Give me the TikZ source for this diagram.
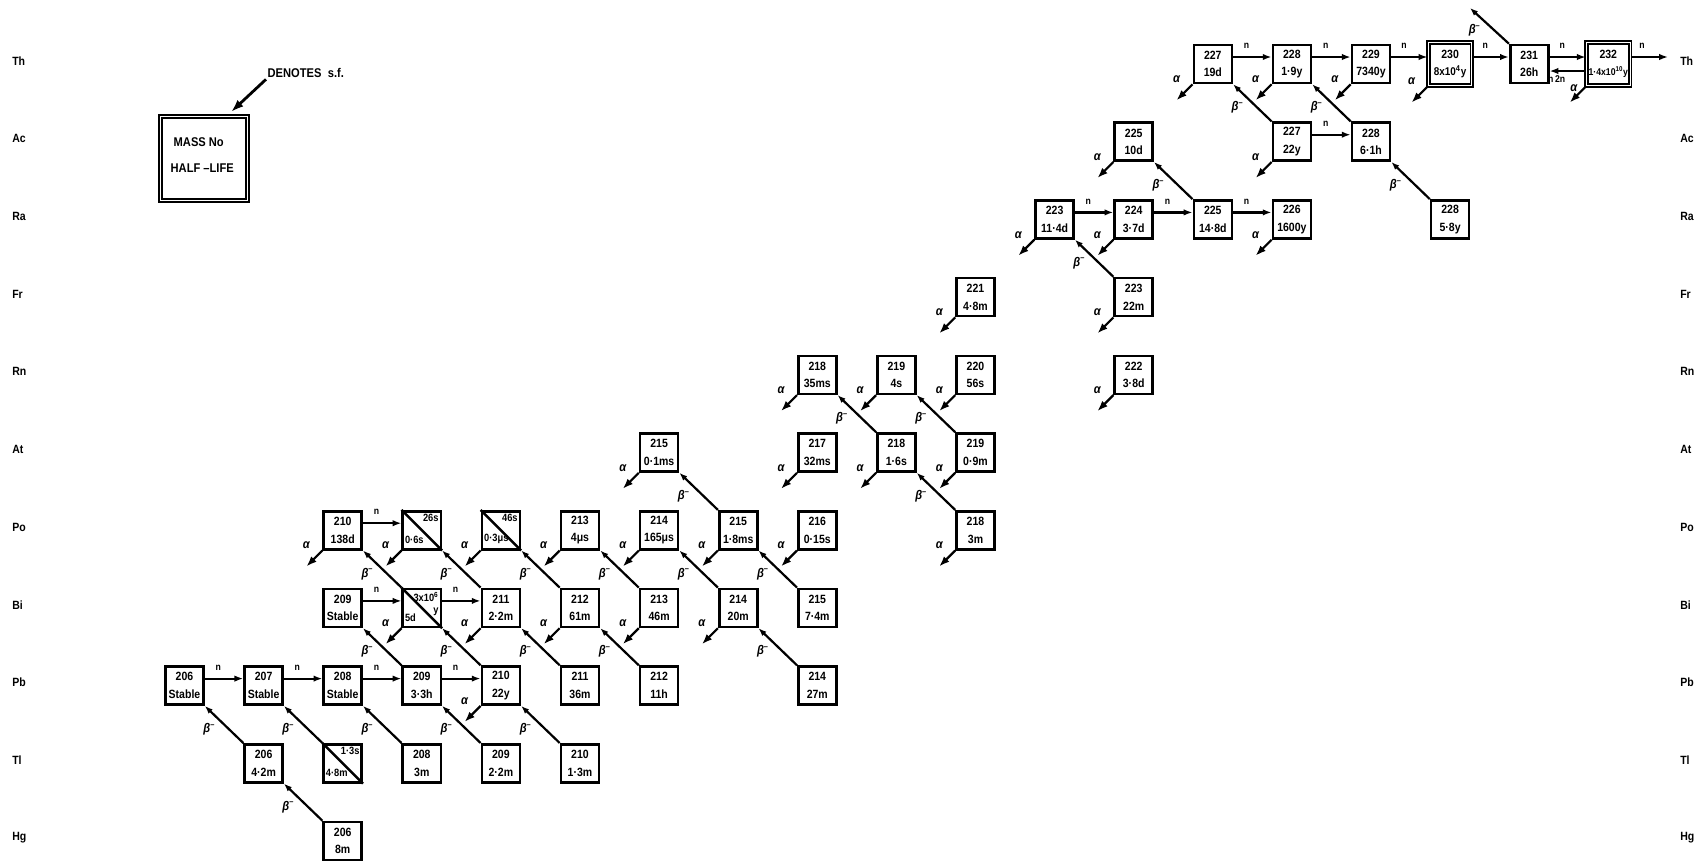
\documentclass[tikz,border=0pt]{standalone}
\usepackage{fontspec}
\newfontfamily\lf{Liberation Sans}[FakeStretch=0.88]
\usetikzlibrary{arrows.meta,calc}
\newcommand\GX[1]{184.5+79.1*#1}
\newcommand\GY[1]{64+77.7*#1}
\tikzset{
  box/.style={draw, line width=0.65mm, minimum size=0.95cm, inner sep=0pt, align=center,
    font=\lf\bfseries\fontsize{8.5}{12.5}\selectfont},
  dbox/.style={box, double, line width=0.45mm, double distance=0.25mm, minimum size=1.085cm},
  conn/.style={line width=0.55mm},
  narr/.style={conn, -{Latex[length=0.22cm,width=0.16cm]}},
  barr/.style={conn, -{Latex[length=0.2cm,width=0.15cm]}},
  aarr/.style={conn, -{Latex[length=0.26cm,width=0.19cm]}},
  lab/.style={font=\lf\bfseries\itshape\fontsize{9}{9}\selectfont, inner sep=0pt},
  nlab/.style={font=\lf\bfseries\fontsize{7}{7}\selectfont, inner sep=0pt},
  slab/.style={font=\lf\bfseries\fontsize{7.5}{8.5}\selectfont, inner sep=0pt, align=right},
  rlab/.style={font=\lf\bfseries\fontsize{8.5}{9}\selectfont, inner sep=0pt},
  ltxt/.style={font=\lf\bfseries\fontsize{9}{10}\selectfont, inner sep=1pt}
}
\newcommand\nuc[5]{\node[box] (#1) at ({\GX{#2}},{\GY{#3}}) {#4\\#5};}
\newcommand\spl[5]{\node[box] (#1) at ({\GX{#2}},{\GY{#3}}) {};
  \draw[line width=0.6mm] (#1.north west) -- (#1.south east);
  \node[slab, anchor=north east] (#1t) at ($(#1.center)+(17,-16)$) {#4};
  \node[slab, anchor=south west] (#1b) at ($(#1.center)+(-17,14)$) {#5};}
\newcommand\ad[1]{\draw[aarr] (#1.south west) -- ++(-16,16);
  \node[lab] at ($(#1.south west)+(-16,-5)$) {α};}
\newcommand\bd[2]{\draw[barr] (#1.north west) -- node[lab, xshift=-0.37cm, yshift=-0.12cm] {β\textsuperscript{–}} (#2.south east);}
\newcommand\nd[2]{\draw[narr] ($(#1.east)+(0,-7)$) -- node[nlab, pos=0.35, anchor=south, yshift=0.18cm] {n} ($(#2.west)+(0,-7)$);}
\begin{document}
\begin{tikzpicture}[x=0.025cm, y=-0.025cm]
\useasboundingbox (0,0) rectangle (1704,864);
% row labels
\foreach \e [count=\i from 0] in {Th,Ac,Ra,Fr,Rn,At,Po,Bi,Pb,Tl,Hg}{
  \node[rlab, anchor=west] (L\e) at (12,{\GY{\i}-3}) {\e};
  \node[rlab, anchor=west] (R\e) at (1680,{\GY{\i}-3}) {\e};
}
% legend
\node[dbox, minimum width=2.185cm, minimum height=2.11cm] (leg) at (204,158.5) {};
\node[ltxt, anchor=west] (legm) at (172,142) {MASS No};
\node[ltxt, anchor=west] (legh) at (169,168) {HALF –LIFE};
\node[ltxt, anchor=west] (den) at (266,73) {DENOTES\enspace s.f.};
\coordinate (legtip) at (231,112);
\draw[conn, line width=0.7mm, -{Latex[length=0.32cm,width=0.22cm]}] (den.south west) -- (legtip);
% Pb
\nuc{pb206}{0}{8}{206}{Stable}
\nuc{pb207}{1}{8}{207}{Stable}
\nuc{pb208}{2}{8}{208}{Stable}
\nuc{pb209}{3}{8}{209}{3·3h}
\nuc{pb210}{4}{8}{210}{22y}
\nuc{pb211}{5}{8}{211}{36m}
\nuc{pb212}{6}{8}{212}{11h}
\nuc{pb214}{8}{8}{214}{27m}
% Tl
\nuc{tl206}{1}{9}{206}{4·2m}
\spl{tl207}{2}{9}{1·3s}{4·8m}
\nuc{tl208}{3}{9}{208}{3m}
\nuc{tl209}{4}{9}{209}{2·2m}
\nuc{tl210}{5}{9}{210}{1·3m}
% Hg
\nuc{hg206}{2}{10}{206}{8m}
% Bi
\nuc{bi209}{2}{7}{209}{Stable}
\spl{bi210}{3}{7}{3x10\textsuperscript{6}\\y}{5d}
\nuc{bi211}{4}{7}{211}{2·2m}
\nuc{bi212}{5}{7}{212}{61m}
\nuc{bi213}{6}{7}{213}{46m}
\nuc{bi214}{7}{7}{214}{20m}
\nuc{bi215}{8}{7}{215}{7·4m}
% Po
\nuc{po210}{2}{6}{210}{138d}
\spl{po211}{3}{6}{26s}{0·6s}
\spl{po212}{4}{6}{46s}{0·3μs}
\nuc{po213}{5}{6}{213}{4μs}
\nuc{po214}{6}{6}{214}{165μs}
\nuc{po215}{7}{6}{215}{1·8ms}
\nuc{po216}{8}{6}{216}{0·15s}
\nuc{po218}{10}{6}{218}{3m}
% At
\nuc{at215}{6}{5}{215}{0·1ms}
\nuc{at217}{8}{5}{217}{32ms}
\nuc{at218}{9}{5}{218}{1·6s}
\nuc{at219}{10}{5}{219}{0·9m}
% Rn
\nuc{rn218}{8}{4}{218}{35ms}
\nuc{rn219}{9}{4}{219}{4s}
\nuc{rn220}{10}{4}{220}{56s}
\nuc{rn222}{12}{4}{222}{3·8d}
% Fr
\nuc{fr221}{10}{3}{221}{4·8m}
\nuc{fr223}{12}{3}{223}{22m}
% Ra
\nuc{ra223}{11}{2}{223}{11·4d}
\nuc{ra224}{12}{2}{224}{3·7d}
\nuc{ra225}{13}{2}{225}{14·8d}
\nuc{ra226}{14}{2}{226}{1600y}
\nuc{ra228}{16}{2}{228}{5·8y}
% Ac
\nuc{ac225}{12}{1}{225}{10d}
\nuc{ac227}{14}{1}{227}{22y}
\nuc{ac228}{15}{1}{228}{6·1h}
% Th
\nuc{th227}{13}{0}{227}{19d}
\nuc{th228}{14}{0}{228}{1·9y}
\nuc{th229}{15}{0}{229}{7340y}
\node[dbox] (th230) at ({\GX{16}},{\GY{0}}) {230\\{\fontsize{8}{10}\selectfont 8x10\textsuperscript{4}y}};
\nuc{th231}{17}{0}{231}{26h}
\node[dbox] (th232) at ({\GX{18}},{\GY{0}}) {232\\{\fontsize{7}{8}\selectfont 1·4x10\textsuperscript{10}y}};
% neutron capture
\nd{pb206}{pb207}
\nd{pb207}{pb208}
\nd{pb208}{pb209}
\nd{pb209}{pb210}
\nd{bi209}{bi210}
\nd{bi210}{bi211}
\nd{po210}{po211}
\nd{ra223}{ra224}
\nd{ra224}{ra225}
\nd{ra225}{ra226}
\nd{ac227}{ac228}
\nd{th227}{th228}
\nd{th228}{th229}
\nd{th229}{th230}
\nd{th230}{th231}
\nd{th231}{th232}
\draw[narr] ($(th232.west)+(0,7)$) -- node[nlab, pos=0.8, anchor=north, yshift=-0.1cm] {n\,2n} ($(th231.east)+(0,7)$);
\coordinate (thout) at (1668,57);
\draw[narr] ($(th232.east)+(0,-7)$) -- node[nlab, pos=0.3, anchor=south, yshift=0.18cm] {n} (thout);
% beta decays
\bd{tl206}{pb206}
\bd{hg206}{tl206}
\bd{tl207}{pb207}
\bd{tl208}{pb208}
\bd{tl209}{pb209}
\bd{tl210}{pb210}
\bd{pb209}{bi209}
\bd{pb210}{bi210}
\bd{pb211}{bi211}
\bd{pb212}{bi212}
\bd{pb214}{bi214}
\bd{bi210}{po210}
\bd{bi211}{po211}
\bd{bi212}{po212}
\bd{bi213}{po213}
\bd{bi214}{po214}
\bd{bi215}{po215}
\bd{po215}{at215}
\bd{po218}{at218}
\bd{at218}{rn218}
\bd{at219}{rn219}
\bd{fr223}{ra223}
\bd{ra225}{ac225}
\bd{ac227}{th227}
\bd{ac228}{th228}
\bd{ra228}{ac228}
\coordinate (thbeta) at (1470,8);
\draw[barr] (th231.north west) -- node[lab, xshift=-0.37cm, yshift=-0.12cm] {β\textsuperscript{–}} (thbeta);
% alpha decays
\foreach \n in {po210,po211,po212,po213,po214,po215,po216,po218,
  bi210,bi211,bi212,bi213,bi214,pb210,at215,at217,at218,at219,
  rn218,rn219,rn220,rn222,fr221,fr223,ra223,ra224,ra226,ac225,ac227,
  th227,th228,th229,th230}{\ad{\n}}
\draw[aarr] (th232.south west) -- ++(-16,16);
\node[lab] at ($(th232.south west)+(-12,2)$) {α};
\end{tikzpicture}
\end{document}
